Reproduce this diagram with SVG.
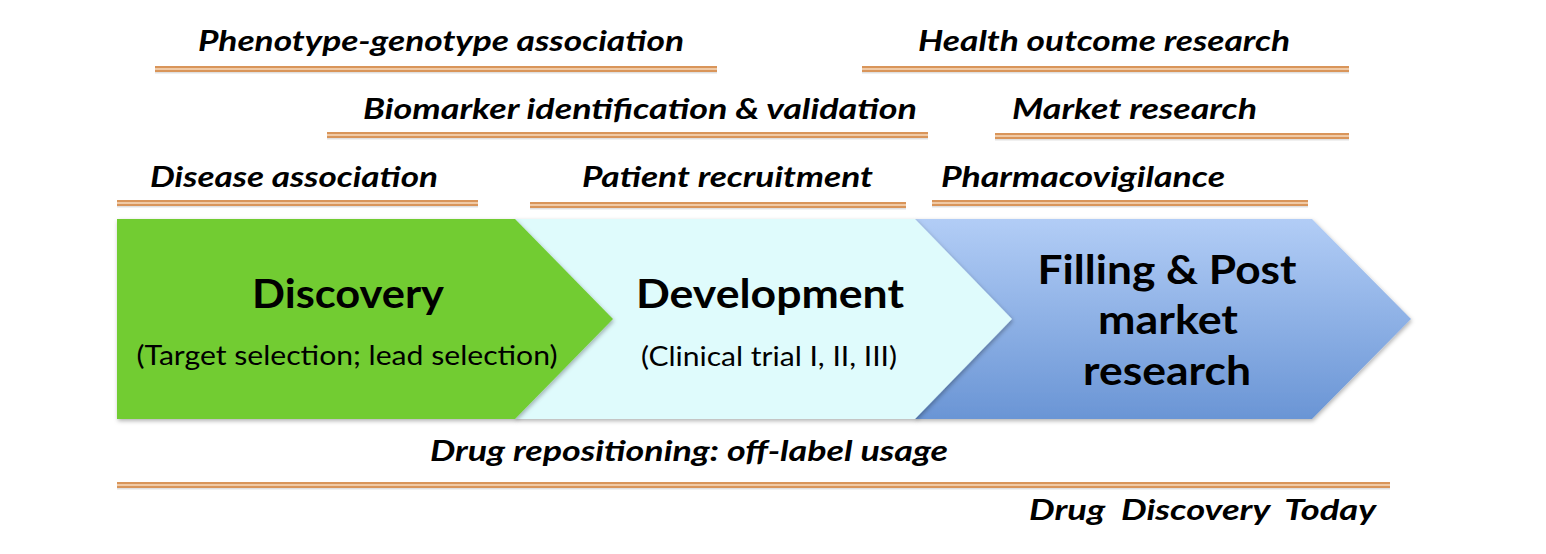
<svg xmlns="http://www.w3.org/2000/svg" width="1546" height="554" viewBox="0 0 1546 554">
<style>
.lbl{font-family:Lato,"Open Sans","Liberation Sans",sans-serif;font-weight:bold;font-style:italic;font-size:29px;fill:#000}
.h{font-family:Lato,"Open Sans","Liberation Sans",sans-serif;font-weight:bold;font-size:40px;fill:#000;text-anchor:middle}
.sub{font-family:Lato,"Open Sans","Liberation Sans",sans-serif;font-size:26px;fill:#000;text-anchor:middle}
.lo{stroke:#d9955a;stroke-width:6;fill:none}
.li{stroke:#f7dcc0;stroke-width:1.6;fill:none}
.ls{stroke:#000;stroke-opacity:0.12;stroke-width:3;fill:none}
</style>
<defs>
<linearGradient id="blue" x1="0" y1="0" x2="0" y2="1">
<stop offset="0" stop-color="#b2cdf6"/>
<stop offset="1" stop-color="#6a95d5"/>
</linearGradient>
<filter id="sh" x="-5%" y="-5%" width="110%" height="115%">
<feDropShadow dx="1" dy="2" stdDeviation="2" flood-color="#000" flood-opacity="0.3"/>
</filter>
</defs>
<rect width="1546" height="554" fill="#fff"/>
<g id="chevrons">
<g id="filling" filter="url(#sh)">
<polygon points="915,219 1312,219 1411,319 1312,419 915,419" fill="url(#blue)"/>
</g>
<g id="development" filter="url(#sh)">
<polygon points="515,219 915,219 1012,319 915,419 515,419" fill="#dffbfc"/>
</g>
<g id="discovery" filter="url(#sh)">
<polygon points="117,219 515,219 613,319 515,419 117,419" fill="#72cc33"/>
</g>
<text class="h" x="348" y="308" textLength="192" lengthAdjust="spacingAndGlyphs">Discovery</text>
<text class="sub" x="347" y="365" textLength="421" lengthAdjust="spacingAndGlyphs">(Target selection; lead selection)</text>
<text class="h" x="770" y="308" textLength="268" lengthAdjust="spacingAndGlyphs">Development</text>
<text class="sub" x="769" y="366" textLength="256" lengthAdjust="spacingAndGlyphs">(Clinical trial I, II, III)</text>
<text class="h" x="1167" y="284" textLength="259" lengthAdjust="spacingAndGlyphs">Filling &amp; Post</text>
<text class="h" x="1168" y="334" textLength="140" lengthAdjust="spacingAndGlyphs">market</text>
<text class="h" x="1167" y="385" textLength="168" lengthAdjust="spacingAndGlyphs">research</text>
</g>
<g id="lines">
<path class="ls" d="M155,72H717 M327,138H928 M117,206H478 M530,208H906 M862,72H1349 M995,139H1349 M932,206H1308 M117,488H1390"/>
<path class="lo" d="M155,69H717 M327,135H928 M117,203H478 M530,205H906 M862,69H1349 M995,136H1349 M932,203H1308 M117,485H1390"/>
<path class="li" d="M155,69H717 M327,135H928 M117,203H478 M530,205H906 M862,69H1349 M995,136H1349 M932,203H1308 M117,485H1390"/>
</g>
<g id="labels">
<text class="lbl" x="198" y="51" textLength="486" lengthAdjust="spacingAndGlyphs">Phenotype-genotype association</text>
<text class="lbl" x="918" y="51" textLength="372" lengthAdjust="spacingAndGlyphs">Health outcome research</text>
<text class="lbl" x="363" y="119" textLength="554" lengthAdjust="spacingAndGlyphs">Biomarker identification &amp; validation</text>
<text class="lbl" x="1012" y="119" textLength="245" lengthAdjust="spacingAndGlyphs">Market research</text>
<text class="lbl" x="150" y="187" textLength="288" lengthAdjust="spacingAndGlyphs">Disease association</text>
<text class="lbl" x="582" y="187" textLength="291" lengthAdjust="spacingAndGlyphs">Patient recruitment</text>
<text class="lbl" x="941" y="187" textLength="284" lengthAdjust="spacingAndGlyphs">Pharmacovigilance</text>
<text class="lbl" x="430" y="461" textLength="518" lengthAdjust="spacingAndGlyphs">Drug repositioning: off-label usage</text>
<text class="lbl" x="1029" y="520" textLength="347" lengthAdjust="spacingAndGlyphs" xml:space="preserve">Drug  Discovery  Today</text>
</g>
</svg>
